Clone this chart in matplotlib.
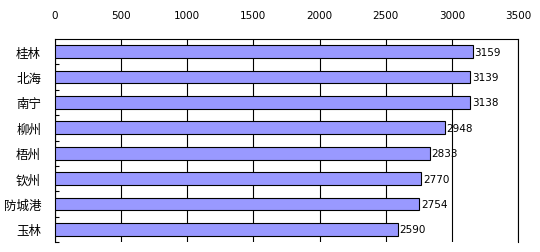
import matplotlib
matplotlib.use("Agg")
import matplotlib.pyplot as plt
import numpy as np

cities = ["桂林", "北海", "南宁", "柳州", "梧州", "钦州", "防城港", "玉林"]
values = [3159, 3139, 3138, 2948, 2833, 2770, 2754, 2590]
xticks = [0, 500, 1000, 1500, 2000, 2500, 3000, 3500]

plt.rcParams['font.family'] = ['Noto Sans CJK SC', 'DejaVu Sans']

fig = plt.figure(figsize=(5.4, 2.53), dpi=100)
ax = fig.add_axes([55/540, 1-243/253, (518-55)/540, (243-40)/253])

y = np.arange(len(cities))
ax.barh(y, values, height=0.5, color="#9999FF", edgecolor="black", linewidth=0.8, zorder=3)
for yi, v in zip(y, values):
    ax.text(v + 12, yi, str(v), va="center", ha="left", fontsize=7.5,
            family="DejaVu Sans", zorder=4)

ax.set_xlim(0, 3500)
ax.set_ylim(len(cities) - 0.5, -0.5)
ax.set_xticks(xticks)
ax.set_xticklabels([str(t) for t in xticks], fontsize=7.5, family="DejaVu Sans")
ax.xaxis.tick_top()
ax.tick_params(axis="x", length=0, pad=14)
ax.set_yticks(y)
ax.set_yticklabels(cities, fontsize=9)
ax.tick_params(axis="y", which="major", length=0, pad=10)
ax.set_yticks(np.arange(len(cities)) + 0.5, minor=True)
ax.tick_params(axis="y", which="minor", direction="in", length=3, width=0.8)
ax.grid(axis="x", color="black", linewidth=0.8, zorder=1)
ax.spines["bottom"].set_visible(False)
for s in ["top", "left", "right"]:
    ax.spines[s].set_linewidth(0.8)

fig.savefig("out.png", dpi=100)
